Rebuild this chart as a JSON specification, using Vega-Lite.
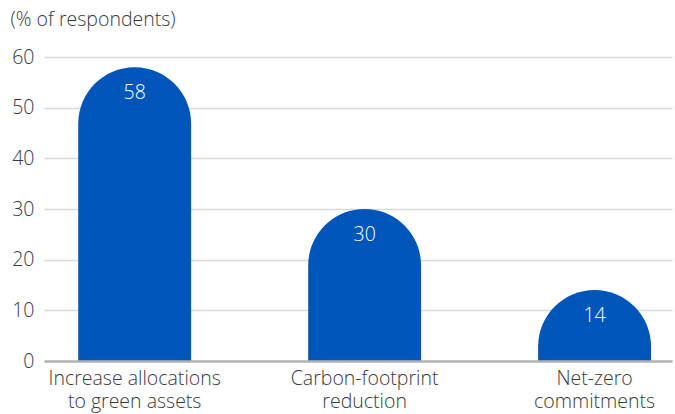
{
  "$schema": "https://vega.github.io/schema/vega-lite/v6.json",
  "autosize": {"type": "none"},
  "width": 628,
  "height": 304,
  "padding": {"left": 44, "top": 57, "right": 3, "bottom": 53},
  "background": "white",
  "config": {
    "view": {"stroke": null},
    "font": "Open Sans"
  },
  "data": {
    "values": [
      {"category": "Increase allocations|to green assets", "value": 58},
      {"category": "Carbon-footprint|reduction", "value": 30},
      {"category": "Net-zero|commitments", "value": 14}
    ]
  },
  "encoding": {
    "x": {
      "field": "category",
      "type": "nominal",
      "sort": null,
      "scale": {"paddingInner": 0.509, "paddingOuter": 0.12, "align": 0.62},
      "axis": {
        "title": null,
        "labelAngle": 0,
        "labelExpr": "split(datum.label, '|')",
        "labelFontSize": 19.5,
        "labelFontWeight": 300,
        "labelColor": "#3a3a3a",
        "labelLineHeight": 23,
        "labelPadding": 8,
        "ticks": false,
        "domain": true,
        "domainColor": "#b3b3b3",
        "domainWidth": 2.5,
        "labelFont": "Open Sans",
        "zindex": 1
      }
    },
    "y": {
      "field": "value",
      "type": "quantitative",
      "scale": {"domain": [0, 60]},
      "axis": {
        "values": [0, 10, 20, 30, 40, 50, 60],
        "title": "(% of respondents)",
        "titleAngle": 0,
        "titleAlign": "left",
        "titleBaseline": "middle",
        "titleX": -34,
        "titleY": -38,
        "titleFontSize": 19.5,
        "titleFontWeight": 300,
        "titleColor": "#3a3a3a",
        "titleFont": "Open Sans",
        "labelFontSize": 19.5,
        "labelFontWeight": 300,
        "labelColor": "#3a3a3a",
        "labelPadding": 10,
        "labelFont": "Open Sans",
        "ticks": false,
        "domain": false,
        "grid": true,
        "gridColor": "#d9d9d9",
        "gridWidth": 1.5
      }
    }
  },
  "layer": [
    {
      "mark": {
        "type": "bar",
        "color": "#0056b8",
        "cornerRadiusTopLeft": 57,
        "cornerRadiusTopRight": 57,
        "y2Offset": 80,
        "clip": true
      },
      "encoding": {
        "y2": {"datum": 0}
      }
    },
    {
      "mark": {
        "type": "text",
        "color": "white",
        "fontSize": 19.5,
        "fontWeight": 300,
        "baseline": "middle",
        "dy": 26,
        "font": "Open Sans"
      },
      "encoding": {
        "text": {"field": "value", "type": "quantitative"}
      }
    }
  ]
}
